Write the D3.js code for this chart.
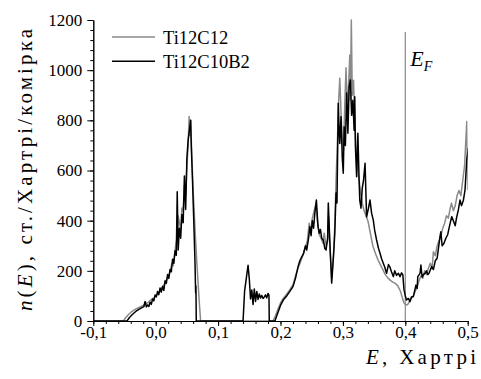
<!DOCTYPE html>
<html>
<head>
<meta charset="utf-8">
<script src="https://cdn.jsdelivr.net/npm/d3@7"></script>
<style>
  body { margin: 0; background: #fff; }
  svg { display: block; }
</style>
</head>
<body>
<div id="chart"></div>
<script>
// Data: energy (Hartree) and density of states
var energyTi12C12 = [-0.1, -0.052, -0.048, -0.044, -0.040, -0.035, -0.030, -0.025, -0.020, -0.016, -0.012, -0.008, -0.004, 0.000, 0.003, 0.006, 0.009, 0.012, 0.015, 0.018, 0.021, 0.023, 0.026, 0.028, 0.030, 0.032, 0.034, 0.036, 0.038, 0.040, 0.042, 0.044, 0.046, 0.048, 0.050, 0.052, 0.0535, 0.055, 0.056, 0.058, 0.060, 0.062, 0.064, 0.066, 0.068, 0.070, 0.072,
  0.188, 0.192, 0.196, 0.200, 0.205, 0.210, 0.215, 0.220, 0.224, 0.228, 0.232, 0.236, 0.240, 0.243, 0.246, 0.248, 0.251, 0.254, 0.257, 0.259, 0.262, 0.265, 0.268, 0.270, 0.273, 0.2755, 0.277, 0.279, 0.282, 0.285, 0.287, 0.289, 0.291, 0.293, 0.295, 0.297, 0.299, 0.301, 0.303, 0.305, 0.307, 0.309, 0.311, 0.312, 0.3135, 0.315, 0.317, 0.319, 0.321, 0.323, 0.325, 0.328, 0.331, 0.334, 0.337, 0.340, 0.344, 0.348, 0.352, 0.356, 0.360, 0.364, 0.368, 0.372, 0.376, 0.380, 0.384, 0.388, 0.392, 0.395, 0.398, 0.401, 0.404, 0.407, 0.410, 0.413, 0.416, 0.419, 0.422, 0.425, 0.428, 0.431, 0.434, 0.437, 0.440, 0.443, 0.445, 0.448, 0.451, 0.454, 0.457, 0.460, 0.463, 0.466, 0.469, 0.472, 0.474, 0.477, 0.480, 0.483, 0.486, 0.489, 0.492, 0.495, 0.4985, 0.500];
var dosTi12C12 = [0, 0, 13, 25, 34, 43, 50, 56, 62, 70, 74, 84, 90, 100, 108, 115, 128, 140, 150, 168, 180, 200, 230, 220, 260, 300, 330, 420, 390, 370, 450, 440, 540, 500, 620, 700, 815, 740, 800, 650, 520, 420, 320, 230, 150, 70, 0,
  0, 22, 48, 72, 92, 108, 125, 145, 180, 210, 235, 262, 295, 320, 390, 350, 410, 440, 470, 400, 345, 330, 310, 350, 300, 320, 420, 300, 170, 270, 380, 560, 700, 870, 968, 830, 720, 680, 860, 1010, 850, 930, 1060, 880, 1200, 900, 960, 800, 690, 620, 580, 520, 470, 440, 420, 400, 350, 300, 270, 245, 225, 205, 185, 172, 162, 155, 150, 140, 120, 95, 72, 64, 66, 80, 92, 100, 120, 135, 160, 180, 170, 200, 185, 210, 230, 210, 276, 260, 300, 320, 340, 370, 390, 420, 410, 450, 470, 440, 460, 500, 520, 500, 560, 620, 795, 522];

var energyTi12C10B2 = [-0.1, -0.046, -0.042, -0.037, -0.032, -0.027, -0.022, -0.019, -0.017, -0.015, -0.013, -0.011, -0.009, -0.007, -0.005, -0.003, -0.001, 0.001, 0.003, 0.005, 0.007, 0.009, 0.011, 0.013, 0.015, 0.017, 0.019, 0.021, 0.023, 0.025, 0.027, 0.029, 0.031, 0.033, 0.0345, 0.036, 0.038, 0.040, 0.042, 0.044, 0.046, 0.048, 0.050, 0.052, 0.054, 0.056, 0.057, 0.059, 0.061, 0.063, 0.064, 0.0645, 0.065,
  0.140, 0.1425, 0.146, 0.148, 0.150, 0.152, 0.154, 0.156, 0.158, 0.160, 0.162, 0.164, 0.166, 0.168, 0.170, 0.172, 0.174, 0.176, 0.178, 0.180, 0.1815, 0.182,
  0.191, 0.195, 0.200, 0.205, 0.210, 0.215, 0.220, 0.224, 0.228, 0.231, 0.234, 0.237, 0.240, 0.242, 0.245, 0.247, 0.249, 0.251, 0.253, 0.255, 0.2575, 0.260, 0.262, 0.264, 0.266, 0.2686, 0.271, 0.273, 0.2755, 0.2766, 0.279, 0.282, 0.285, 0.287, 0.289, 0.2905, 0.2926, 0.294, 0.295, 0.297, 0.299, 0.3006, 0.302, 0.304, 0.306, 0.308, 0.310, 0.312, 0.314, 0.316, 0.318, 0.319, 0.320, 0.322, 0.324, 0.326, 0.327, 0.329, 0.331, 0.333, 0.3355, 0.338, 0.341, 0.3434, 0.346, 0.3487, 0.351, 0.354, 0.357, 0.3595, 0.362, 0.3647, 0.367, 0.370, 0.373, 0.375, 0.378, 0.3808, 0.383, 0.386, 0.389, 0.3915, 0.394, 0.396, 0.398, 0.400, 0.402, 0.405, 0.4075, 0.410, 0.4128, 0.415, 0.417, 0.419, 0.420, 0.4236, 0.425, 0.427, 0.429, 0.4316, 0.434, 0.436, 0.438, 0.4423, 0.445, 0.448, 0.451, 0.4556, 0.457, 0.459, 0.462, 0.465, 0.468, 0.471, 0.4744, 0.477, 0.480, 0.482, 0.485, 0.4877, 0.490, 0.493, 0.4957, 0.4985, 0.501];
var dosTi12C10B2 = [0, 0, 14, 27, 38, 46, 53, 57, 78, 56, 64, 58, 75, 66, 88, 80, 104, 96, 118, 105, 132, 115, 138, 122, 160, 150, 185, 170, 205, 196, 246, 230, 280, 262, 515, 283, 370, 330, 425, 392, 578, 445, 650, 722, 760, 800, 700, 560, 400, 230, 112, 140, 0,
  0, 120, 185, 222, 168, 88, 124, 66, 128, 78, 118, 86, 108, 92, 102, 90, 96, 104, 92, 110, 102, 0,
  0, 28, 62, 86, 100, 118, 137, 170, 215, 240, 256, 270, 300, 283, 330, 376, 340, 400, 370, 430, 482, 380, 350, 365, 330, 323, 290, 283, 330, 470, 320, 151, 260, 350, 510, 470, 868, 760, 708, 814, 650, 589, 774, 700, 909, 749, 934, 961, 820, 880, 760, 894, 700, 575, 749, 560, 482, 450, 530, 560, 629, 415, 450, 482, 430, 402, 360, 323, 290, 270, 248, 230, 215, 190, 225, 217, 195, 177, 200, 182, 190, 177, 192, 185, 124, 100, 84, 90, 77, 97, 97, 120, 143, 130, 177, 190, 223, 175, 185, 190, 200, 185, 190, 217, 205, 240, 250, 336, 356, 300, 310, 330, 345, 380, 416, 400, 380, 410, 443, 482, 460, 480, 522, 642, 690];

var seriesNames = ["Ti12C12", "Ti12C10B2"];
var seriesColors = ["#8a8a8a", "#000000"];
var xTickValues = [-0.1, 0.0, 0.1, 0.2, 0.3, 0.4, 0.5];
var xTickLabels = ["-0,1", "0,0", "0,1", "0,2", "0,3", "0,4", "0,5"];
var yTickValues = [0, 200, 400, 600, 800, 1000, 1200];
var fermiEnergy = 0.4;

var font = "'Liberation Serif', Tinos, 'Times New Roman', 'Liberation Sans', sans-serif";

// Measurement
var w = 481, h = 379;
var padding = [ 20, 13.3, 58, 93.3 ];  //Top, right, bottom, left

var xScale = d3.scaleLinear()
	.domain([-0.1, 0.5])
	.range([ padding[3], w - padding[1] ]);
var yScale = d3.scaleLinear()
	.domain([0, 1200])
	.range([ h - padding[2], padding[0] ]);

var svg = d3.select("#chart")
	.append("svg")
	.attr("width", w)
	.attr("height", h)
	.attr("font-family", font);

svg.append("rect").attr("width", w).attr("height", h).attr("fill", "#fff");

svg.append("defs").append("clipPath")
	.attr("id", "plotclip")
	.append("rect")
	.attr("x", padding[3])
	.attr("y", padding[0] - 1)
	.attr("width", w - padding[1] - padding[3])
	.attr("height", h - padding[2] - padding[0] + 1);

// Fermi level
svg.append("line")
	.attr("x1", xScale(fermiEnergy))
	.attr("x2", xScale(fermiEnergy))
	.attr("y1", 32)
	.attr("y2", yScale(0))
	.attr("stroke", "#8a8a8a")
	.attr("stroke-width", 1.2);

var efLabel = svg.append("text")
	.attr("x", xScale(fermiEnergy) + 5)
	.attr("y", 66)
	.attr("font-size", 22)
	.attr("font-style", "italic");
efLabel.append("tspan").text("E");
efLabel.append("tspan").attr("font-size", 14).attr("dy", 5).text("F");

// Lines
var line = d3.line()
	.x(function(d) { return xScale(d[0]); })
	.y(function(d) { return yScale(d[1]); });

var series = [
	d3.zip(energyTi12C12, dosTi12C12),
	d3.zip(energyTi12C10B2, dosTi12C10B2)
];

svg.append("g")
	.attr("clip-path", "url(#plotclip)")
	.selectAll("path")
	.data(series)
	.enter()
	.append("path")
	.attr("d", line)
	.attr("fill", "none")
	.attr("stroke", function(d, i) { return seriesColors[i]; })
	.attr("stroke-width", 1.5)
	.attr("stroke-linejoin", "round");

// Axes
var yAxis = d3.axisLeft(yScale)
	.tickValues(yTickValues)
	.tickSize(6)
	.tickSizeOuter(0)
	.tickPadding(5)
	.tickFormat(d3.format("d"));
var yMinor = d3.axisLeft(yScale)
	.tickValues(d3.range(0, 1201, 40))
	.tickSize(3)
	.tickSizeOuter(0)
	.tickFormat("");
var xAxis = d3.axisBottom(xScale)
	.tickValues(xTickValues)
	.tickSize(5)
	.tickSizeOuter(0)
	.tickFormat(function(d, i) { return xTickLabels[i]; });
var xMinor = d3.axisBottom(xScale)
	.tickValues(d3.range(-0.1, 0.5001, 0.02))
	.tickSize(3)
	.tickSizeOuter(0)
	.tickFormat("");

function styleAxis(g) {
	g.attr("font-family", font);
	g.selectAll("path, line").attr("stroke", "#000").attr("stroke-width", 1);
	g.selectAll("text").attr("font-size", 17).attr("fill", "#000");
}

svg.append("g").attr("transform", "translate(" + padding[3] + ",0)").call(yMinor).call(styleAxis);
svg.append("g").attr("transform", "translate(" + padding[3] + ",0)").call(yAxis).call(styleAxis);
svg.append("g").attr("transform", "translate(0," + (h - padding[2]) + ")").call(xMinor).call(styleAxis);
var xg = svg.append("g").attr("transform", "translate(0," + (h - padding[2]) + ")").call(xAxis).call(styleAxis);
xg.selectAll("text").attr("y", 17).attr("dy", 0);

// Axis titles
var yTitle = svg.append("text")
	.attr("transform", "translate(32," + 170 + ") rotate(-90)")
	.attr("text-anchor", "middle")
	.attr("font-size", 21)
	.attr("textLength", 282)
	.attr("lengthAdjust", "spacing");
yTitle.append("tspan").attr("font-style", "italic").text("n");
yTitle.append("tspan").text("(");
yTitle.append("tspan").attr("font-style", "italic").text("E");
yTitle.append("tspan").text("), ст./Хартрі/комірка");

var xTitle = svg.append("text")
	.attr("x", 366)
	.attr("y", 364)
	.attr("font-size", 21)
	.attr("textLength", 110)
	.attr("lengthAdjust", "spacing");
xTitle.append("tspan").attr("font-style", "italic").text("E");
xTitle.append("tspan").text(", Хартрі");

// Legend
var legend = svg.selectAll(".legend")
	.data(seriesNames)
	.enter()
	.append("g")
	.attr("class", "legend")
	.attr("transform", function(d, i) { return "translate(112," + (37 + i * 24.3) + ")"; });
legend.append("line")
	.attr("x1", 0).attr("x2", 43)
	.attr("stroke", function(d, i) { return seriesColors[i]; })
	.attr("stroke-width", 1.5);
legend.append("text")
	.attr("x", 51)
	.attr("y", 7)
	.attr("font-size", 18.5)
	.text(function(d) { return d; });
</script>
</body>
</html>
